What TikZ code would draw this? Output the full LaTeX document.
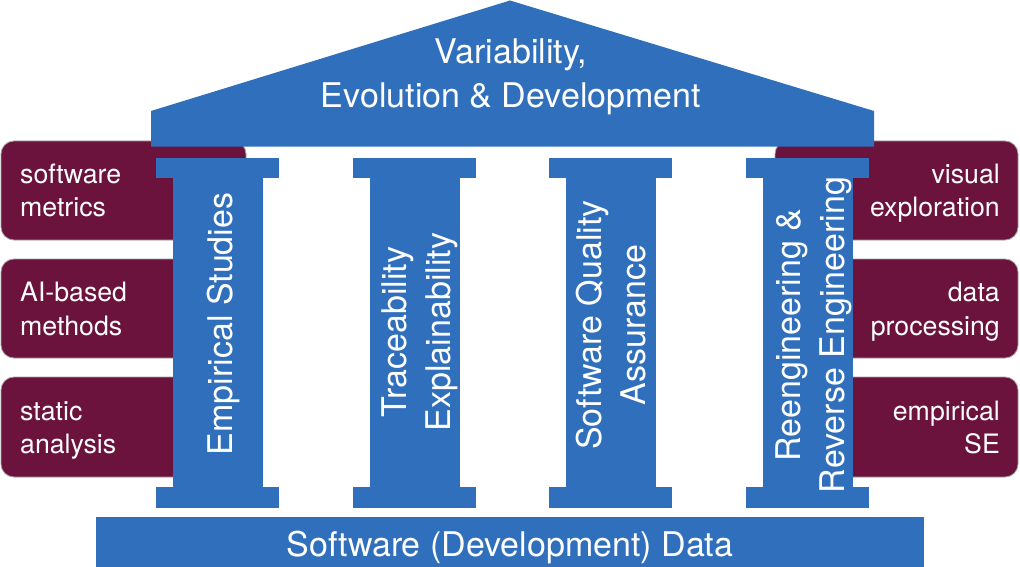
\documentclass[tikz,border=0pt]{standalone}
\usepackage{fontspec}
\setmainfont{TeX Gyre Heros}
\definecolor{templeblue}{RGB}{47,111,187}
\definecolor{boxmaroon}{RGB}{108,19,61}
\definecolor{boxedge}{RGB}{160,160,160}
\tikzset{
  blueshape/.style={fill=templeblue, draw=none},
  sidebox/.style={fill=boxmaroon, draw=boxedge, line width=0.8pt, rounded corners=13pt},
  bigtext/.style={text=white, inner sep=0pt, font=\fontsize{34}{44}\selectfont},
  coltext/.style={bigtext, rotate=90, align=center, anchor=base},
  boxtext/.style={text=white, inner sep=0pt, font=\fontsize{26.7}{33.5}\selectfont},
}
\begin{document}
\begin{tikzpicture}[x=1pt, y=-1pt]
\useasboundingbox (0,0) rectangle (1020,567);
% side boxes
\path[sidebox] (1,141) rectangle (246,240);
\path[sidebox] (1,259) rectangle (246,358);
\path[sidebox] (1,377) rectangle (246,477);
\path[sidebox] (775,141) rectangle (1018,240);
\path[sidebox] (775,259) rectangle (1018,358);
\path[sidebox] (775,377) rectangle (1018,477);
% roof
\path[blueshape] (151,146.7) -- (151,111) -- (510,0.5) -- (874,111) -- (874,146.7) -- cycle;
% columns
\foreach \cx in {156,353,549,746}{
  \path[blueshape] (\cx,158) rectangle ++(123,19.7);
  \path[blueshape] (\cx+16.5,177) rectangle ++(90,311);
  \path[blueshape] (\cx,487) rectangle ++(123,20.7);
}
% base
\path[blueshape] (96,517) rectangle (924,567);
% texts (anchor base = baseline of the last line)
\node[bigtext, align=center, anchor=base] (roof) at (511,108) {Variability,\\Evolution \& Development};
\node[bigtext, anchor=base] (data) at (510,556) {Software (Development) Data};
\node[coltext] (c1) at (232,324) {Empirical Studies};
\node[coltext] (c2) at (450,332) {Traceability\\Explainability};
\node[coltext] (c3) at (645,325) {Software Quality\\Assurance};
\node[coltext] (c4) at (844,335) {Reengineering \&\\Reverse Engineering};
\node[boxtext, align=left, anchor=base west] (l1) at (20,216.5) {software\\metrics};
\node[boxtext, align=left, anchor=base west] (l2) at (20,335) {AI-based\\methods};
\node[boxtext, align=left, anchor=base west] (l3) at (20,453.5) {static\\analysis};
\node[boxtext, align=right, anchor=base east] (r1) at (1000,216.5) {visual\\exploration};
\node[boxtext, align=right, anchor=base east] (r2) at (1000,335) {data\\processing};
\node[boxtext, align=right, anchor=base east] (r3) at (1000,453.5) {empirical\\SE};
\end{tikzpicture}
\end{document}
